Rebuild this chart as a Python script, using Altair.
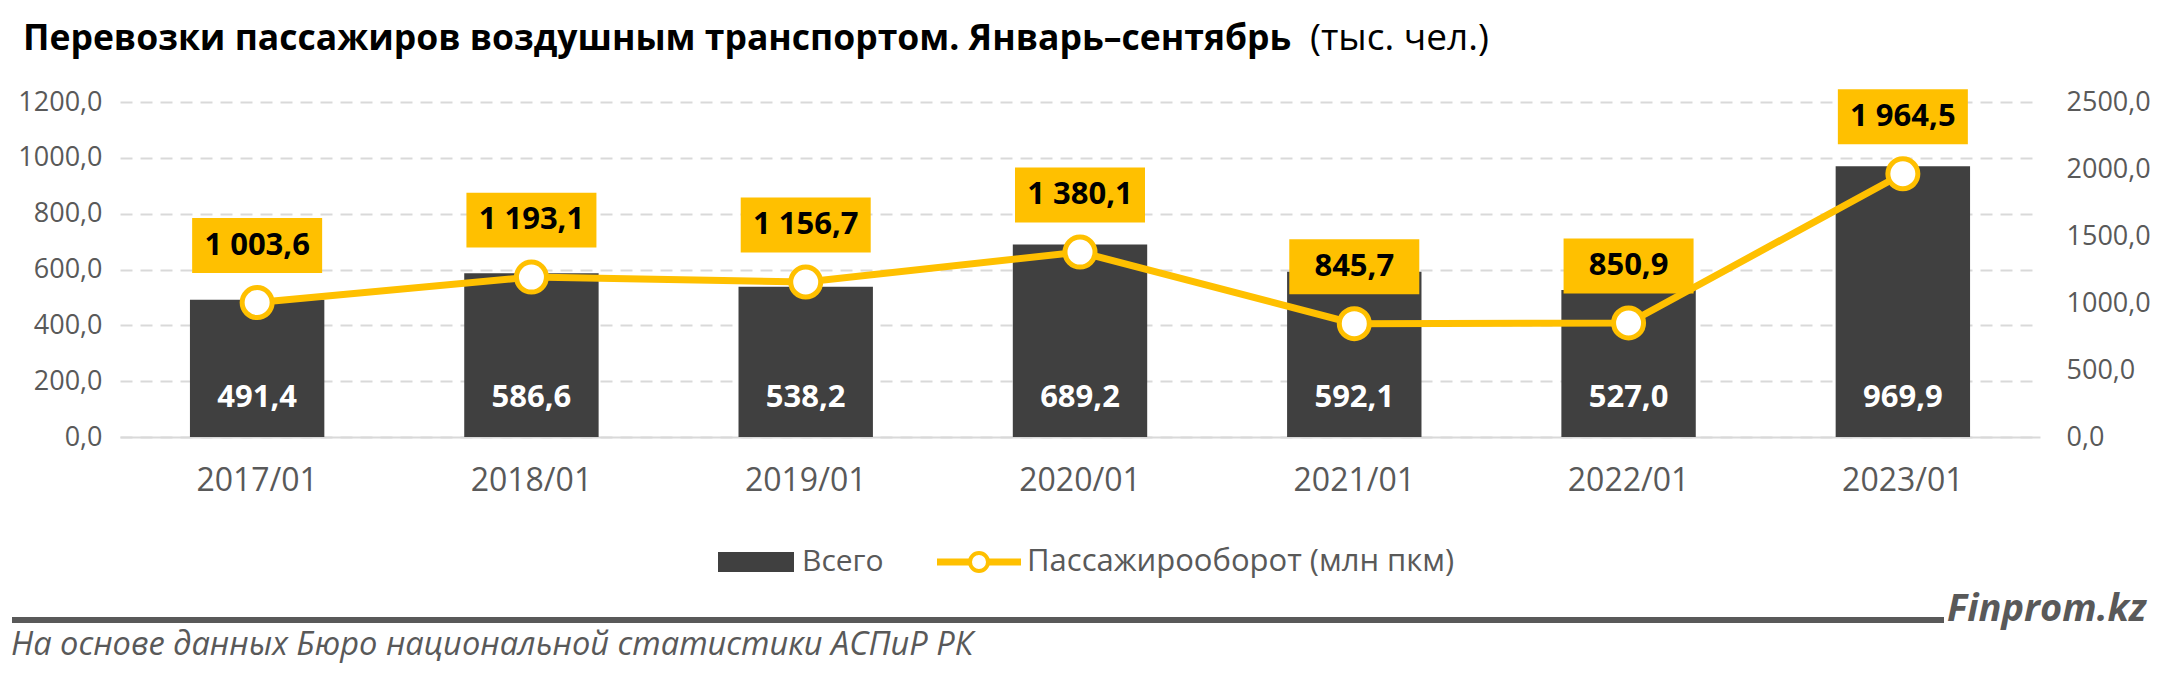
"""Air passenger transport chart, January-September (Finprom.kz style)."""

import pandas as pd
import altair as alt

# --- data ---
PERIODS = ['2017/01', '2018/01', '2019/01', '2020/01', '2021/01', '2022/01', '2023/01']
TOTAL = [491.4, 586.6, 538.2, 689.2, 592.1, 527.0, 969.9]            # thousand people
TURNOVER = [1003.6, 1193.1, 1156.7, 1380.1, 845.7, 850.9, 1964.5]    # mln passenger-km
LEFT_TICKS = [0, 200, 400, 600, 800, 1000, 1200]
RIGHT_TICKS = [0, 500, 1000, 1500, 2000, 2500]

TITLE_BOLD = 'Перевозки пассажиров воздушным транспортом. Январь–сентябрь'
TITLE_REGULAR = '(тыс. чел.)'
LEGEND_BAR = 'Всего'
LEGEND_LINE = 'Пассажирооборот (млн пкм)'
SOURCE = 'На основе данных Бюро национальной статистики АСПиР РК'
BRAND = 'Finprom.kz'

FONT = 'Open Sans'
BAR_COLOR = '#404040'
LINE_COLOR = '#FFC000'
GRID_COLOR = '#D9D9D9'
GRAY = '#595959'

W, H = 1920, 335

df = pd.DataFrame({'period': PERIODS, 'total': TOTAL, 'turnover': TURNOVER})
one = pd.DataFrame({'k': [0]})

comma_fmt = "replace(format(datum.value, '.1f'), '.', ',')"

base = alt.Chart(df).transform_calculate(
    total_label="replace(format(datum.total, '.1f'), '.', ',')",
    turnover_label="replace(replace(format(datum.turnover, ',.1f'), ',', ' '), '.', ',')",
)

x = alt.X(
    'period:N', sort=PERIODS, title=None,
    scale=alt.Scale(paddingInner=0.51, paddingOuter=0.255),
    axis=alt.Axis(
        labelAngle=0, labelFont=FONT, labelFontSize=32, labelColor=GRAY,
        labelBaseline='middle', labelPadding=43, ticks=False, tickSize=0,
        domainColor=GRID_COLOR, domainWidth=2,
    ),
)

y_left = alt.Y(
    'total:Q', title=None,
    scale=alt.Scale(domain=[0, 1200]),
    axis=alt.Axis(
        values=LEFT_TICKS, labelExpr=comma_fmt, labelFont=FONT, labelFontSize=27,
        labelColor=GRAY, labelPadding=18, ticks=False, tickSize=0, domain=False,
        grid=True, gridColor=GRID_COLOR, gridWidth=2, gridDash=[12, 8],
    ),
)

y_right = alt.Y(
    'turnover:Q', title=None,
    scale=alt.Scale(domain=[0, 2500]),
    axis=alt.Axis(
        orient='right', values=RIGHT_TICKS, labelExpr=comma_fmt, labelFont=FONT,
        labelFontSize=27, labelColor=GRAY, labelPadding=26, ticks=False, tickSize=0,
        domain=False, grid=False,
    ),
)

# bars + white value labels (left scale)
bars = base.mark_bar(color=BAR_COLOR).encode(x=x, y=y_left)
bar_text = base.mark_text(
    font=FONT, fontSize=31, fontWeight='bold', color='white', baseline='middle', dy=-39,
).encode(x=x, y=alt.datum(0), text='total_label:N')
left_group = alt.layer(bars, bar_text)

# line + markers + yellow label boxes (right scale)
line = base.mark_line(color=LINE_COLOR, strokeWidth=7).encode(x=x, y=y_right)
dots = base.mark_point(
    shape='circle', filled=True, fill='white', stroke=LINE_COLOR, strokeWidth=5,
    size=900, opacity=1,
).encode(x=x, y=y_right)
boxes = base.mark_point(
    shape='M-1,-0.423H1V0.423H-1Z', filled=True, color=LINE_COLOR, size=16900,
    yOffset=-57, opacity=1,
).encode(x=x, y=y_right)
box_text = base.mark_text(
    font=FONT, fontSize=31, fontWeight='bold', color='#000000', baseline='middle', dy=-57,
).encode(x=x, y=y_right, text='turnover_label:N')
right_group = alt.layer(line, dots, boxes, box_text)


def label(text, px, py, size, **kw):
    """Free text placed in pixels relative to the plot area."""
    return alt.Chart(one).mark_text(
        text=text, font=FONT, fontSize=size, align='left', **kw
    ).encode(x=alt.value(px), y=alt.value(py))


title_bold = label(TITLE_BOLD, -97, -52, 35.5, fontWeight='bold', color='#000000',
                   baseline='alphabetic')
title_reg = label(TITLE_REGULAR, 1190, -52, 37, color='#000000', baseline='alphabetic')

# hand-made legend
leg_square = alt.Chart(one).mark_rect(color=BAR_COLOR).encode(
    x=alt.value(598), x2=alt.value(674), y=alt.value(450), y2=alt.value(470))
leg_bar_text = label(LEGEND_BAR, 682, 460, 30, color=GRAY, baseline='middle')
leg_line = alt.Chart(one).mark_rule(color=LINE_COLOR, strokeWidth=7).encode(
    x=alt.value(817), x2=alt.value(901), y=alt.value(460))
leg_dot = alt.Chart(one).mark_point(
    shape='circle', filled=True, fill='white', stroke=LINE_COLOR, strokeWidth=4,
    size=324, opacity=1,
).encode(x=alt.value(859), y=alt.value(460))
leg_line_text = label(LEGEND_LINE, 907, 460, 31, color=GRAY, baseline='middle')

# footer
footer_rule = alt.Chart(one).mark_rule(color=GRAY, strokeWidth=6).encode(
    x=alt.value(-108), x2=alt.value(1824), y=alt.value(518))
brand = label(BRAND, 1827, 519, 38, fontWeight='bold', fontStyle='italic', color=GRAY,
              baseline='alphabetic')
source = label(SOURCE, -109, 543, 32.6, fontStyle='italic', color=GRAY, baseline='middle')

chart = (
    alt.layer(
        left_group, right_group,
        title_bold, title_reg,
        leg_square, leg_bar_text, leg_line, leg_dot, leg_line_text,
        footer_rule, brand, source,
    )
    .resolve_scale(y='independent')
    .properties(
        width=W, height=H,
        autosize=alt.AutoSizeParams(type='none'),
        padding={'left': 112, 'top': 94, 'right': 112, 'bottom': 230},
        background='white',
    )
    .configure_view(stroke=None)
)

chart.save("out.html", embed_options={"renderer": "svg", "actions": False})
